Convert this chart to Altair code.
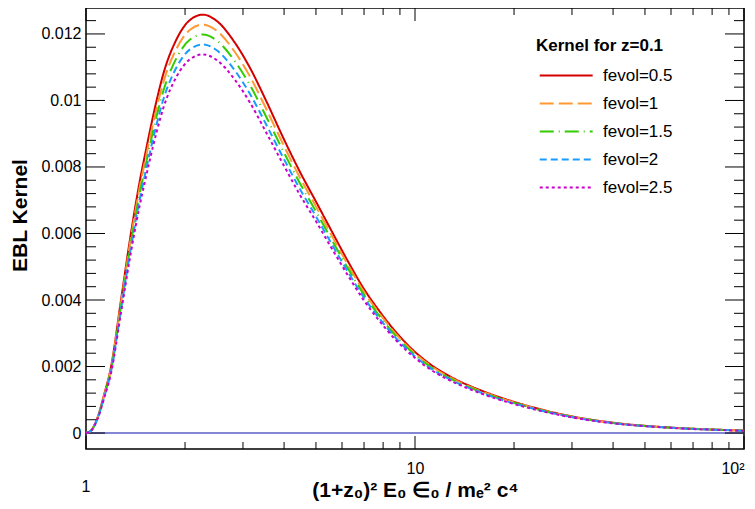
import altair as alt
import pandas as pd

# ---------------- data ----------------
SERIES = ["fevol=0.5", "fevol=1", "fevol=1.5", "fevol=2", "fevol=2.5"]
COLORS = ["#d40000", "#ff9933", "#33cc00", "#1a9cff", "#cc00cc"]
DASHES = [[1, 0], [14, 5], [14, 5, 1, 5], [7, 4], [3, 3]]

X_VALUES = [1.0, 1.0356, 1.0853, 1.1342, 1.1912, 1.2776, 1.37, 1.4591, 1.5218, 1.5651,
            1.6405, 1.7179, 1.8868, 2.0712, 2.2683, 2.4961, 2.8378, 3.1517, 3.5418, 3.9783,
            4.4713, 5.026, 5.5162, 6.2699, 6.9663, 7.8303, 8.7982, 9.8611, 11.106, 13.227,
            15.76, 18.774, 22.364, 29.592, 41.996, 59.58, 97.23, 100.0]

RED = [0.0, 0.000075, 0.000481, 0.001143, 0.001985, 0.004, 0.006015, 0.007609, 0.008511, 0.009098,
       0.010015, 0.010797, 0.01185, 0.012421, 0.01258, 0.012391, 0.011729, 0.010977, 0.009955, 0.008872,
       0.00785, 0.006917, 0.006165, 0.005143, 0.004361, 0.003639, 0.003008, 0.002496, 0.002075, 0.001624,
       0.001293, 0.001023, 0.000797, 0.000511, 0.000286, 0.000165, 0.000075, 0.00007]
ORANGE = [0.0, 0.000073, 0.00047, 0.001116, 0.001938, 0.003905, 0.005872, 0.007428, 0.008309, 0.008882,
          0.009777, 0.010541, 0.011569, 0.012126, 0.012281, 0.012097, 0.01145, 0.010716, 0.009719, 0.008672,
          0.007677, 0.00677, 0.006034, 0.005038, 0.004274, 0.003566, 0.002948, 0.002449, 0.002036, 0.001596,
          0.00127, 0.001005, 0.000784, 0.000503, 0.000282, 0.000163, 0.000074, 0.000069]
GREEN = [0.0, 0.000071, 0.000458, 0.001089, 0.001891, 0.00381, 0.005729, 0.007248, 0.008107, 0.008666,
         0.009539, 0.010284, 0.011287, 0.011831, 0.011982, 0.011802, 0.011172, 0.010456, 0.009482, 0.008473,
         0.007505, 0.006623, 0.005903, 0.004932, 0.004187, 0.003493, 0.002888, 0.002402, 0.001997, 0.001567,
         0.001248, 0.000987, 0.000771, 0.000496, 0.000278, 0.000161, 0.000073, 0.000068]
BLUE = [0.0, 0.00007, 0.000447, 0.001062, 0.001844, 0.003715, 0.005586, 0.007067, 0.007905, 0.00845,
        0.009301, 0.010028, 0.011006, 0.011536, 0.011684, 0.011508, 0.010893, 0.010195, 0.009246, 0.008273,
        0.007332, 0.006476, 0.005772, 0.004827, 0.004099, 0.003421, 0.002828, 0.002356, 0.001958, 0.001539,
        0.001225, 0.000969, 0.000758, 0.000488, 0.000274, 0.000159, 0.000072, 0.000067]
MAGENTA = [0.0, 0.000068, 0.000435, 0.001034, 0.001796, 0.00362, 0.005444, 0.006886, 0.007702, 0.008234,
           0.009064, 0.009771, 0.010724, 0.011241, 0.011385, 0.011214, 0.010615, 0.009934, 0.009009, 0.008074,
           0.007159, 0.006329, 0.005641, 0.004721, 0.004012, 0.003348, 0.002767, 0.002309, 0.001919, 0.00151,
           0.001202, 0.000951, 0.000745, 0.00048, 0.00027, 0.000157, 0.000071, 0.000067]

ZERO_LEVEL = [0.0]

X_LABELED = [10, 100]
X_FIRST = [1]
X_MAJOR = [1, 10, 100]
X_MINOR = [2, 3, 4, 5, 6, 7, 8, 9, 20, 30, 40, 50, 60, 70, 80, 90]
Y_MAJOR = [0, 0.002, 0.004, 0.006, 0.008, 0.01, 0.012]
Y_MINOR = [0.0004, 0.0008, 0.0012, 0.0016, 0.0024, 0.0028, 0.0032, 0.0036,
           0.0044, 0.0048, 0.0052, 0.0056, 0.0064, 0.0068, 0.0072, 0.0076,
           0.0084, 0.0088, 0.0092, 0.0096, 0.0104, 0.0108, 0.0112, 0.0116, 0.0124]

# ---------------- tables ----------------
rows = []
for name, vals in zip(SERIES, [RED, ORANGE, GREEN, BLUE, MAGENTA]):
    for xv, yv in zip(X_VALUES, vals):
        rows.append({"x": xv, "y": yv, "series": name})
df = pd.DataFrame(rows)
zero_df = pd.DataFrame({"y": ZERO_LEVEL})

FONT = "Liberation Sans"
W, H = 658, 441
xs = alt.Scale(type="log", domain=[1, 100], nice=False)
ys = alt.Scale(domain=[-0.00048, 0.01278], nice=False, zero=False)

zero_line = alt.Chart(zero_df).mark_rule(color="#5c5cc8", strokeWidth=1.5).encode(
    y=alt.Y("y:Q", scale=ys, axis=None))

# inward tick marks on all four sides (ROOT frame style), each from its own tick table
xb_major = alt.Chart(pd.DataFrame({"xbM": X_MAJOR})).mark_rule(color="black", strokeWidth=1).encode(
    x=alt.X("xbM:Q", scale=xs, axis=None), y=alt.value(H), y2=alt.value(H - 13))
xt_major = alt.Chart(pd.DataFrame({"xtM": X_MAJOR})).mark_rule(color="black", strokeWidth=1).encode(
    x=alt.X("xtM:Q", scale=xs, axis=None), y=alt.value(0), y2=alt.value(13))
xb_minor = alt.Chart(pd.DataFrame({"xbm": X_MINOR})).mark_rule(color="black", strokeWidth=1).encode(
    x=alt.X("xbm:Q", scale=xs, axis=None), y=alt.value(H), y2=alt.value(H - 7))
xt_minor = alt.Chart(pd.DataFrame({"xtm": X_MINOR})).mark_rule(color="black", strokeWidth=1).encode(
    x=alt.X("xtm:Q", scale=xs, axis=None), y=alt.value(0), y2=alt.value(7))
yl_major = alt.Chart(pd.DataFrame({"ylM": Y_MAJOR})).mark_rule(color="black", strokeWidth=1).encode(
    y=alt.Y("ylM:Q", scale=ys, axis=None), x=alt.value(0), x2=alt.value(19))
yr_major = alt.Chart(pd.DataFrame({"yrM": Y_MAJOR})).mark_rule(color="black", strokeWidth=1).encode(
    y=alt.Y("yrM:Q", scale=ys, axis=None), x=alt.value(W), x2=alt.value(W - 19))
yl_minor = alt.Chart(pd.DataFrame({"ylm": Y_MINOR})).mark_rule(color="black", strokeWidth=1).encode(
    y=alt.Y("ylm:Q", scale=ys, axis=None), x=alt.value(0), x2=alt.value(10))
yr_minor = alt.Chart(pd.DataFrame({"yrm": Y_MINOR})).mark_rule(color="black", strokeWidth=1).encode(
    y=alt.Y("yrm:Q", scale=ys, axis=None), x=alt.value(W), x2=alt.value(W - 10))

# the "1" label sits lower than "10" and "10²" in the reference
first_label = alt.Chart(pd.DataFrame({"first": X_FIRST})).mark_text(
    fontSize=16, font=FONT, color="black", baseline="middle", align="center"
).encode(
    x=alt.X("first:Q", scale=xs, axis=None), y=alt.value(H + 38), text=alt.Text("first:Q")
)

lines = alt.Chart(df).mark_line(strokeWidth=2, interpolate="monotone").encode(
    x=alt.X("x:Q", scale=xs, axis=alt.Axis(
        values=X_LABELED,
        labelExpr="datum.value >= 100 ? '10²' : '10'",
        title="(1+z₀)² E₀ ∈₀ / mₑ² c⁴")),
    y=alt.Y("y:Q", scale=ys, axis=alt.Axis(values=Y_MAJOR, format="~g", title="EBL Kernel")),
    color=alt.Color("series:N", scale=alt.Scale(domain=SERIES, range=COLORS),
                    legend=alt.Legend(title="Kernel for z=0.1", orient="none", legendX=450, legendY=30)),
    strokeDash=alt.StrokeDash("series:N", scale=alt.Scale(domain=SERIES, range=DASHES),
                              legend=alt.Legend(title="Kernel for z=0.1", orient="none", legendX=450, legendY=30)),
)

chart = alt.layer(
    zero_line, xb_major, xt_major, xb_minor, xt_minor,
    yl_major, yr_major, yl_minor, yr_minor, first_label, lines
).resolve_axis(
    x="independent", y="independent"
).properties(
    width=W, height=H,
    autosize=alt.AutoSizeParams(type="none"),
    padding={"left": 78, "top": 0, "right": 3, "bottom": 52},
).configure(
    font=FONT
).configure_axis(
    ticks=False, domain=False, grid=False,
    labelFontSize=16, labelFont=FONT, labelColor="black",
    titleFontSize=21, titleFont=FONT, titleFontWeight="bold", titleColor="black",
).configure_axisX(
    labelPadding=11, titlePadding=3,
).configure_axisY(
    labelPadding=5, titleX=-66, titleY=207, titleAngle=270,
    titleAlign="center", titleBaseline="middle",
).configure_legend(
    symbolType="M-0.9,0H9.1", symbolSize=112, symbolStrokeWidth=2,
    labelOffset=50, labelFontSize=17, labelFont=FONT, labelColor="black",
    titleFontSize=17, titleFont=FONT, titleFontWeight="bold", titleColor="black",
    rowPadding=10, titlePadding=12,
).configure_view(
    stroke="black", strokeWidth=1.5
)

chart.save("out.html", embed_options={"renderer": "svg", "actions": False})
